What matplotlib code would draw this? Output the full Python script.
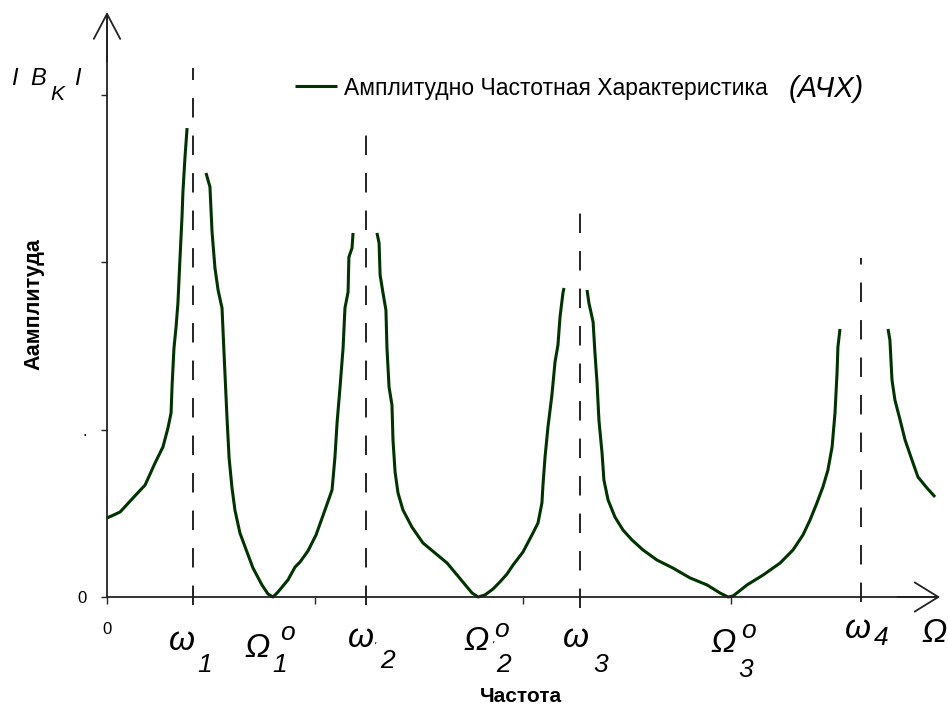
import matplotlib.pyplot as plt

plt.rcParams['font.family'] = ['Liberation Sans', 'DejaVu Sans']
plt.rcParams['lines.scale_dashes'] = False

# amplitude response, broken near each resonance (frequency, |B_k|)
f_a = [0, 0.063, 0.125, 0.183, 0.231, 0.269, 0.293, 0.308, 0.313, 0.322, 0.332, 0.341, 0.351, 0.361, 0.365, 0.375, 0.385]
a_a = [0.472, 0.508, 0.592, 0.669, 0.801, 0.897, 1.010, 1.100, 1.267, 1.488, 1.614, 1.757, 2.026, 2.283, 2.421, 2.630, 2.803]

f_b = [0.476, 0.495, 0.505, 0.519, 0.534, 0.553, 0.563, 0.577, 0.587, 0.601, 0.615, 0.639, 0.673, 0.702, 0.745, 0.774, 0.798,
       0.822, 0.870, 0.904, 0.928, 0.966, 1.005, 1.048, 1.082, 1.096, 1.106, 1.120, 1.135, 1.144, 1.159, 1.163, 1.178, 1.183]
a_b = [2.534, 2.451, 2.182, 1.967, 1.835, 1.727, 1.447, 1.070, 0.831, 0.652, 0.520, 0.383, 0.269, 0.173, 0.072, 0.018, 0,
       0.030, 0.102, 0.179, 0.209, 0.275, 0.371, 0.520, 0.640, 0.837, 1.040, 1.249, 1.488, 1.727, 1.823, 2.032, 2.086, 2.176]

f_c = [1.298, 1.308, 1.313, 1.327, 1.341, 1.346, 1.356, 1.370, 1.375, 1.385, 1.399, 1.423, 1.466, 1.519, 1.635, 1.755, 1.784, 1.817,
       1.856, 1.889, 1.923, 1.952, 2.000, 2.048, 2.072, 2.091, 2.096, 2.106, 2.120, 2.139, 2.154, 2.168, 2.178, 2.192, 2.197]
a_c = [2.176, 2.116, 1.925, 1.817, 1.715, 1.488, 1.255, 1.148, 0.938, 0.747, 0.622, 0.520, 0.418, 0.323, 0.203, 0.024, 0, 0.012,
       0.048, 0.090, 0.137, 0.191, 0.269, 0.383, 0.442, 0.562, 0.669, 0.837, 1.016, 1.207, 1.405, 1.506, 1.674, 1.817, 1.847]

f_d = [2.308, 2.317, 2.337, 2.346, 2.356, 2.365, 2.380, 2.389, 2.409, 2.442, 2.481, 2.524, 2.577, 2.644, 2.721, 2.803, 2.885,
       2.947, 2.986, 3.010, 3.077, 3.154, 3.236, 3.298, 3.346, 3.380, 3.413, 3.442, 3.466, 3.486, 3.500, 3.510, 3.514, 3.524]
a_d = [1.835, 1.757, 1.644, 1.458, 1.279, 1.058, 0.861, 0.699, 0.580, 0.478, 0.400, 0.341, 0.281, 0.221, 0.173, 0.114, 0.072,
       0.024, 0, 0.006, 0.072, 0.131, 0.203, 0.281, 0.371, 0.460, 0.562, 0.658, 0.759, 0.897, 1.100, 1.345, 1.494, 1.602]

f_e = [3.755, 3.764, 3.774, 3.788, 3.813, 3.837, 3.870, 3.899, 3.942, 3.981]
a_e = [1.602, 1.536, 1.297, 1.178, 1.058, 0.938, 0.819, 0.717, 0.652, 0.598]

branches = [(f_a, a_a), (f_b, a_b), (f_c, a_c), (f_d, a_d), (f_e, a_e)]

# resonance markers
omega = [0.413, 1.245, 2.274, 3.625]
omega_top = [3.162, 2.815, 2.313, 2.026]
omega_bot = [-0.048, -0.048, -0.066, -0.030]

xticks = [0, 1, 2, 3]
xticklabels = ['0', '', '', '']
yticks = [0, 1, 2, 3]
yticklabels = ['0', '.', '', '']

legend_label = 'Амплитудно Частотная Характеристика'

GREEN = '#003300'
AXC = '#222222'

# pixel layout of the picture
W, H = 948, 710
X0, XS, Y0, YS = 107, 208, 597, 167.3

fig = plt.figure(figsize=(W / 100, H / 100), dpi=100)
ax = fig.add_axes([0, 0, 1, 1])
ax.set_xlim(-X0 / XS, (W - X0) / XS)
ax.set_ylim(-(H - Y0) / YS, Y0 / YS)


def fx(px):
    return px / W


def fy(py):
    return 1 - py / H


for i, (f, a) in enumerate(branches):
    ax.plot(f, a, color=GREEN, lw=2.2, solid_capstyle='butt',
            label=legend_label if i == 0 else None)

for w, t, b in zip(omega, omega_top, omega_bot):
    ax.plot([w, w], [b, t], color=AXC, lw=1.4, dashes=(14, 13))

# axes with open arrow heads
for s in ['top', 'right']:
    ax.spines[s].set_visible(False)
ax.spines['left'].set_position(('data', 0))
ax.spines['bottom'].set_position(('data', 0))
ax.spines['left'].set_bounds(0, 3.48)
ax.spines['bottom'].set_bounds(0, 3.99)
for s in ['left', 'bottom']:
    ax.spines[s].set_color(AXC)
    ax.spines[s].set_linewidth(1.3)

ax.annotate('', xy=(0, 3.497), xytext=(0, 3.2),
            arrowprops=dict(arrowstyle='->,head_length=1.8,head_width=0.95', lw=1.3, color=AXC,
                            shrinkA=0, shrinkB=0))
ax.annotate('', xy=(4.005, 0), xytext=(3.8, 0),
            arrowprops=dict(arrowstyle='->,head_length=1.7,head_width=1.05', lw=1.3, color=AXC,
                            shrinkA=0, shrinkB=0))

ax.set_xticks(xticks)
ax.set_xticklabels(xticklabels)
ax.set_yticks(yticks)
ax.set_yticklabels(yticklabels)
ax.tick_params(axis='x', direction='out', length=5, width=1, color=AXC, pad=13, labelsize=12)
ax.tick_params(axis='y', direction='out', length=4.5, width=1, color=AXC, pad=10, labelsize=12)

ax.set_ylabel('Аамплитуда', fontsize=15.5, fontweight='bold', va='center', rotation_mode='default')
ax.yaxis.set_label_coords(fx(34), fy(304))
ax.set_xlabel('Частота', fontsize=15, fontweight='bold', va='center')
ax.xaxis.set_label_coords(fx(521), fy(697))

ax.legend(loc='center left', bbox_to_anchor=(fx(295), fy(88)), bbox_transform=fig.transFigure,
          frameon=False, borderpad=0, borderaxespad=0, handlelength=1.85, handletextpad=0.3,
          prop={'family': 'Liberation Sans', 'size': 16.5})
fig.text(fx(826), fy(97), '(АЧХ)', fontsize=21, style='italic', ha='center', va='baseline')

# |B_k| at the top of the vertical axis
for s, x, y, size in [('I', 14, 85, 17), ('B', 38, 85, 17), ('K', 57, 100, 15), ('I', 77, 85, 17)]:
    fig.text(fx(x), fy(y), s, fontsize=size, style='italic', ha='center', va='baseline')

# frequency labels under the axis: (glyph, x center, baseline, size)
marks = [
    ('ω', 182, 650, 24), ('1', 205, 672, 19),
    ('Ω', 257, 657, 24), ('o', 287, 640, 19), ('1', 280, 672, 19),
    ('ω', 361, 647, 24), ("'", 375, 650, 8), ('2', 387, 668, 19),
    ('Ω', 476, 650, 24), ('o', 501, 637, 19), ("'", 493, 649, 8), ('2', 503, 672, 19),
    ('ω', 576, 647, 24), ('3', 601, 672, 19),
    ('Ω', 723, 652, 24), ('o', 748, 638, 19), ('3', 746, 677, 19),
    ('ω', 858, 638, 24), ('4', 881, 645, 19),
    ('Ω', 934, 642, 24),
]
for s, x, y, size in marks:
    fig.text(fx(x), fy(y), s, fontsize=size, style='italic', ha='center', va='baseline')

fig.savefig('out.png', dpi=100, facecolor='white')
